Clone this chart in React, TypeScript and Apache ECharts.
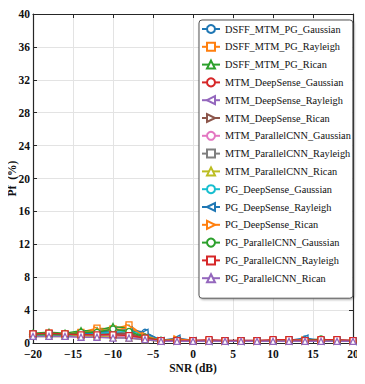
import React, { useEffect, useRef } from "react";
import * as echarts from "echarts";

const snr = [-20, -18, -16, -14, -12, -10, -8, -6, -4, -2, 0, 2, 4, 6, 8, 10, 12, 14, 16, 18, 20];

const seriesNames = [
  "DSFF_MTM_PG_Gaussian",
  "DSFF_MTM_PG_Rayleigh",
  "DSFF_MTM_PG_Rican",
  "MTM_DeepSense_Gaussian",
  "MTM_DeepSense_Rayleigh",
  "MTM_DeepSense_Rican",
  "MTM_ParallelCNN_Gaussian",
  "MTM_ParallelCNN_Rayleigh",
  "MTM_ParallelCNN_Rican",
  "PG_DeepSense_Gaussian",
  "PG_DeepSense_Rayleigh",
  "PG_DeepSense_Rican",
  "PG_ParallelCNN_Gaussian",
  "PG_ParallelCNN_Rayleigh",
  "PG_ParallelCNN_Rican",
];

const colors = [
  "#1f77b4", "#ff7f0e", "#2ca02c", "#d62728", "#9467bd",
  "#8c564b", "#e377c2", "#7f7f7f", "#bcbd22", "#17becf",
  "#1f77b4", "#ff7f0e", "#2ca02c", "#d62728", "#9467bd",
];

const symbols = [
  "circle", "rect", "triangle", "circle", "triangle",
  "triangle", "circle", "rect", "triangle", "circle",
  "triangle", "triangle", "circle", "rect", "triangle",
];
const symbolRotates = [0, 0, 0, 0, 90, -90, 0, 0, 0, 0, 90, -90, 0, 0, 0];
const symbolSizes = [6, 6, 6, 4.5, 6, 6, 6, 6, 6, 4.5, 6, 6, 6, 6, 6];

const dsffGaussian = [1.0, 1.1, 1.0, 1.2, 1.4, 1.6, 1.5, 1.3, 0.3, 0.3, 0.2, 0.2, 0.2, 0.2, 0.2, 0.2, 0.2, 0.5, 0.2, 0.2, 0.2];
const dsffRayleigh = [1.1, 1.2, 1.1, 1.3, 1.8, 1.7, 2.2, 0.8, 0.3, 0.4, 0.3, 0.2, 0.2, 0.2, 0.2, 0.2, 0.3, 0.3, 0.3, 0.2, 0.2];
const dsffRican = [1.2, 1.3, 1.2, 1.5, 1.5, 2.0, 1.8, 0.7, 0.3, 0.3, 0.2, 0.2, 0.2, 0.2, 0.2, 0.3, 0.3, 0.3, 0.4, 0.3, 0.2];
const mtmDsGaussian = [0.9, 1.0, 0.9, 1.0, 1.1, 1.3, 1.2, 0.6, 0.2, 0.2, 0.2, 0.2, 0.2, 0.2, 0.2, 0.2, 0.2, 0.2, 0.2, 0.2, 0.2];
const mtmDsRayleigh = [0.8, 0.9, 0.9, 0.9, 1.0, 1.1, 1.0, 0.5, 0.2, 0.2, 0.2, 0.2, 0.2, 0.2, 0.2, 0.2, 0.2, 0.2, 0.2, 0.2, 0.2];
const mtmDsRican = [1.0, 1.0, 1.0, 1.1, 1.2, 1.2, 1.1, 0.6, 0.2, 0.2, 0.2, 0.2, 0.2, 0.2, 0.2, 0.2, 0.2, 0.2, 0.2, 0.2, 0.2];
const mtmPcGaussian = [0.9, 0.9, 0.8, 0.8, 0.9, 0.8, 0.8, 0.5, 0.2, 0.2, 0.2, 0.2, 0.2, 0.2, 0.2, 0.2, 0.2, 0.2, 0.2, 0.2, 0.2];
const mtmPcRayleigh = [1.1, 1.1, 1.0, 1.0, 1.0, 1.0, 0.9, 0.6, 0.2, 0.3, 0.3, 0.3, 0.3, 0.3, 0.3, 0.3, 0.4, 0.3, 0.3, 0.4, 0.3];
const mtmPcRican = [0.8, 0.8, 0.8, 0.9, 0.8, 0.7, 0.6, 0.4, 0.2, 0.2, 0.2, 0.2, 0.2, 0.2, 0.2, 0.2, 0.2, 0.2, 0.3, 0.2, 0.2];
const pgDsGaussian = [1.0, 1.0, 1.0, 1.1, 1.2, 1.3, 1.4, 1.1, 0.3, 0.3, 0.2, 0.2, 0.2, 0.2, 0.2, 0.2, 0.2, 0.4, 0.2, 0.2, 0.2];
const pgDsRayleigh = [1.0, 1.1, 1.0, 1.1, 1.3, 1.5, 1.6, 1.3, 0.3, 0.6, 0.3, 0.2, 0.2, 0.2, 0.2, 0.3, 0.3, 0.6, 0.3, 0.2, 0.2];
const pgDsRican = [1.1, 1.1, 1.1, 1.2, 1.6, 1.5, 1.9, 0.9, 0.3, 0.5, 0.3, 0.2, 0.2, 0.2, 0.2, 0.2, 0.3, 0.4, 0.3, 0.3, 0.2];
const pgPcGaussian = [1.0, 1.0, 1.0, 1.3, 1.3, 1.7, 1.4, 0.7, 0.3, 0.3, 0.2, 0.2, 0.2, 0.2, 0.2, 0.2, 0.2, 0.3, 0.5, 0.2, 0.2];
const pgPcRayleigh = [1.1, 1.2, 1.1, 1.0, 1.0, 1.0, 0.9, 0.6, 0.3, 0.3, 0.3, 0.4, 0.3, 0.3, 0.3, 0.4, 0.4, 0.3, 0.4, 0.4, 0.3];
const pgPcRican = [0.8, 0.8, 0.8, 0.7, 0.7, 0.6, 0.6, 0.4, 0.2, 0.2, 0.2, 0.2, 0.2, 0.2, 0.2, 0.2, 0.2, 0.2, 0.2, 0.2, 0.2];

const seriesValues = [
  dsffGaussian, dsffRayleigh, dsffRican,
  mtmDsGaussian, mtmDsRayleigh, mtmDsRican,
  mtmPcGaussian, mtmPcRayleigh, mtmPcRican,
  pgDsGaussian, pgDsRayleigh, pgDsRican,
  pgPcGaussian, pgPcRayleigh, pgPcRican,
];

const FONT = "Liberation Serif";

export default function App() {
  const ref = useRef<HTMLDivElement>(null);
  useEffect(() => {
    if (!ref.current) return;
    const chart = echarts.init(ref.current, null, { renderer: "svg" });
    const axisLine = { show: true, onZero: false, lineStyle: { color: "#262626", width: 1.2 } };
    const labelStyle = { fontFamily: FONT, fontWeight: "bold" as const, fontSize: 11.5, color: "#111" };
    const legendText = { fontFamily: FONT, fontSize: 10.3, color: "#111", fontWeight: "normal" as const };
    const series = seriesNames.map((name, i) => ({
      name,
      type: "line" as const,
      data: snr.map((x, j) => [x, seriesValues[i][j]]),
      symbol: symbols[i],
      symbolRotate: symbolRotates[i],
      symbolSize: symbolSizes[i],
      showSymbol: true,
      color: colors[i],
      lineStyle: { color: colors[i], width: 1.5 },
      itemStyle: { color: "#ffffff", borderColor: colors[i], borderWidth: 1.3 },
      xAxisIndex: 0,
      yAxisIndex: 0,
    }));
    chart.setOption({
      animation: false,
      backgroundColor: "#ffffff",
      textStyle: { fontFamily: FONT },
      grid: { left: 33, right: 12, top: 14, bottom: 41, containLabel: false, outerBoundsMode: "none" },
      legend: {
        orient: "vertical",
        left: 199,
        top: 20,
        itemWidth: 18,
        itemHeight: 10,
        itemGap: 7.8,
        padding: [4, 2, 15, 2],
        backgroundColor: "#ffffff",
        borderColor: "#555",
        borderWidth: 1,
        borderRadius: 3,
        shadowColor: "rgba(0,0,0,0.35)",
        shadowBlur: 2,
        shadowOffsetX: 1,
        shadowOffsetY: 1,
        textStyle: legendText,
        data: seriesNames.map((name) => ({ name, textStyle: legendText })),
      },
      xAxis: [
        {
          type: "value",
          min: -20,
          max: 20,
          interval: 5,
          name: "SNR (dB)",
          nameLocation: "middle",
          nameGap: 19,
          nameMoveOverlap: false,
          nameTextStyle: { fontFamily: FONT, fontWeight: "bold", fontSize: 11.5, color: "#111" },
          axisLine,
          axisTick: { show: true, inside: true, length: 4, lineStyle: { color: "#262626" } },
          axisLabel: { ...labelStyle, margin: 5, formatter: (v: number) => String(v).replace("-", "\u2212") },
          splitLine: { show: true, lineStyle: { color: "#e3e3e3", width: 1 } },
        },
        {
          type: "value",
          position: "top",
          min: -20,
          max: 20,
          interval: 5,
          axisLine,
          axisTick: { show: true, inside: true, length: 4, lineStyle: { color: "#262626" } },
          axisLabel: { show: false },
          splitLine: { show: false },
        },
      ],
      yAxis: [
        {
          type: "value",
          min: 0,
          max: 40,
          interval: 4,
          name: "Pf  (%)",
          nameLocation: "middle",
          nameGap: 15,
          nameMoveOverlap: false,
          nameTextStyle: { fontFamily: FONT, fontWeight: "bold", fontSize: 11.5, color: "#111" },
          axisLine,
          axisTick: { show: true, inside: true, length: 4, lineStyle: { color: "#262626" } },
          axisLabel: { ...labelStyle, margin: 3 },
          splitLine: { show: true, lineStyle: { color: "#e3e3e3", width: 1 } },
        },
        {
          type: "value",
          position: "right",
          min: 0,
          max: 40,
          interval: 4,
          axisLine,
          axisTick: { show: true, inside: true, length: 4, lineStyle: { color: "#262626" } },
          axisLabel: { show: false },
          splitLine: { show: false },
        },
      ],
      series,
    });
    return () => chart.dispose();
  }, []);
  return <div ref={ref} style={{ width: 365, height: 384, marginLeft: -8, marginTop: -8 }} />;
}
